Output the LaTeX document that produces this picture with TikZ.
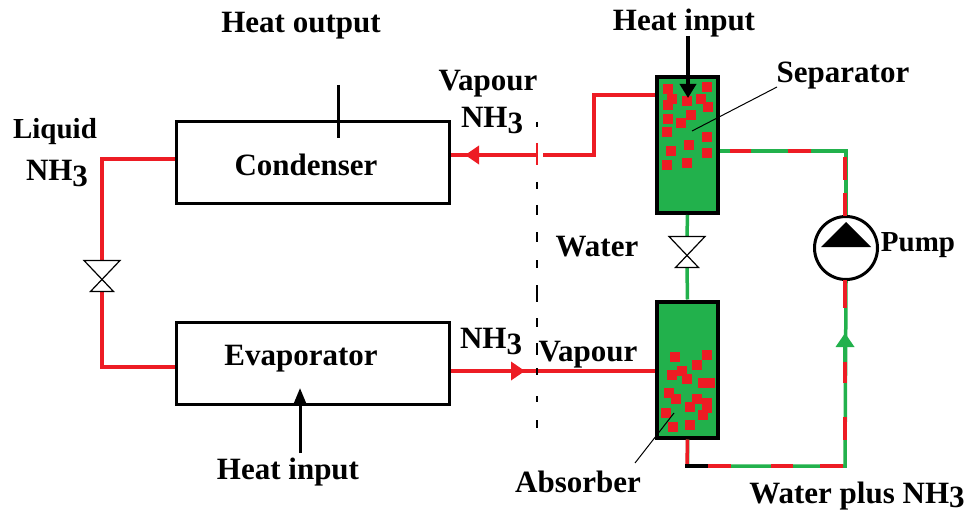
\documentclass[tikz,border=0pt]{standalone}
\usepackage{fontspec}
\setmainfont{Liberation Serif}
\usetikzlibrary{arrows.meta}
\definecolor{pipered}{HTML}{ED1C24}
\definecolor{pipegreen}{HTML}{22B14C}
\newcommand{\nhthree}{NH\raisebox{-6pt}{3}}
\tikzset{
	label/.style={font=\fontsize{31}{36}\selectfont\bfseries,inner sep=0pt,align=center},
	unit/.style={draw,line width=3pt,inner sep=0pt,minimum width=273pt,minimum height=82pt},
	tank/.style={draw,line width=4pt,fill=pipegreen,inner sep=0pt,minimum width=61pt,minimum height=136pt},
	valve/.style={inner sep=0pt,outer sep=0pt,minimum width=36pt,minimum height=31pt},
	redpipe/.style={draw=pipered,line width=3.5pt},
	greenpipe/.style={draw=pipegreen,line width=3.5pt},
	heatline/.style={line width=3pt},
	leader/.style={line width=1pt}
}
\begin{document}
\begin{tikzpicture}[x=1pt,y=-1pt]
\useasboundingbox (0,0) rectangle (966,513);
\node[unit] (condenser) at (313,162.5) {};
\node[unit] (evaporator) at (313,363) {};
\node[tank] (separator) at (687.5,145) {};
\node[tank] (absorber) at (687.5,369.5) {};
\node[valve] (valveliquid) at (102,276) {};
\node[valve] (valvewater) at (687,252) {};
\node[circle,draw,line width=3pt,inner sep=0pt,minimum size=63pt] (pump) at (846,248) {};
\coordinate (heatoutend) at (338,85);
\coordinate (tickend) at (338,138);
\coordinate (heatinend) at (300,453);
\coordinate (heatintip) at (300,388);
\coordinate (heatsepend) at (688,36);
\coordinate (heatseptip) at (688,98);
\coordinate (vapourgap) at (543,155);
\coordinate (vapourcut) at (537,155);
\coordinate (vapourtip) at (465,155);
\coordinate (nhtip) at (525,371);

% red lines
\draw[redpipe] ([yshift=3.5pt]condenser.west) -| (valveliquid.north);
\draw[redpipe] (valveliquid.south) |- ([yshift=-4pt]evaporator.west);
\draw[redpipe] (vapourcut) -- ([yshift=7.5pt]condenser.east);
\draw[redpipe,-{Triangle[length=14pt,width=18pt]}] (vapourcut) -- (vapourtip);
\draw[redpipe] (vapourgap) -| (594,95) -- ([yshift=50pt]separator.west);
\draw[pipered,line width=1.5pt] (537,143) -- (537,165);
\draw[redpipe] ([yshift=-8pt]evaporator.east) -- ([yshift=-1.5pt]absorber.west);
\draw[redpipe,-{Triangle[length=14pt,width=18pt]}] ([yshift=-8pt]evaporator.east) -- (nhtip);

% water line
\draw[greenpipe] (separator.south) -- (valvewater.north);
\draw[greenpipe] (valvewater.south) -- (absorber.north);

% water plus ammonia
\draw[greenpipe] ([yshift=-6pt]separator.east) -| (pump.north);
\draw[greenpipe] (absorber.south) |- (845,466) -- (pump.south);
\foreach \xa/\ya/\xb/\yb in {730/151/751/151,788/151/811/151,845/157/845/180,845/193/845/216,
	845/280/845/308,845/362/845/383,845/417/845/440,820/466/843/466,771/466/793/466,708/466/731/466}
	\draw[redpipe] (\xa,\ya) -- (\xb,\yb);
\draw[redpipe] (absorber.south) -- (687,466);
\draw[line width=3.5pt] (685.25,466) -- (708,466);
\draw[pipegreen,-{Triangle[length=14pt,width=18pt]},line width=3.5pt] (845,362) -- (845,333);

% bubbles
\foreach \x/\y in {668.3/89.3,706.7/87.3,671.7/99.3,668.3/104.7,686.7/101.3,700.7/99.3,707.7/107.3,
	668.3/119.3,690.7/115.3,680.7/123.3,666.7/132.3,706.7/137.3,688.7/145.3,670.7/151.3,706.7/153.3,
	666.7/165.3,686.7/163.3,675.3/357.3,706.7/355.3,696.7/365.3,672.3/375.3,682.3/371.3,686.7/379.3,
	703.3/383.3,710/383.3,668.7/393.3,676.3/399.3,697.3/399.3,706.7/403.3,706.7/408.3,690.3/407.3,
	702.7/415.3,666.3/413.3,673.3/427.3,690.3/425.3}
	\fill[pipered] (\x-5,\y-5) rectangle (\x+5,\y+5);

% valves and pump
\foreach \v in {valveliquid,valvewater}
	\draw[line width=1.2pt,shift={(\v)}] (-18,-15.5) -- (18,-15.5) -- (-11.5,15.5) -- (11.5,15.5) -- cycle;
\fill (846,222) -- (871,247) -- (821,247) -- cycle;

% heat lines
\draw[heatline] (heatoutend) -- (tickend);
\draw[heatline,-{Triangle[length=17pt,width=13pt]}] (heatinend) -- (heatintip);
\draw[line width=4pt,-{Triangle[length=14pt,width=16pt]}] (heatsepend) -- (heatseptip);
\foreach \ya/\yb in {122/127,182/189,205/215,232/242,260/268,285/302,318/327,343/355,368/375,396/402,420/428}
	\draw[line width=1.2pt] (537,\ya) -- (537,\yb);

% leaders
\node[label] (separatorlabel) at (843,76) {Separator};
\node[label] (absorberlabel) at (578,482) {Absorber};
\draw[leader] (777,87) -- (692,131);
\draw[leader] (635,463) -- (674,413);

\node[label] at (301,26) {Heat output};
\node[label] at (684,23) {Heat input};
\node[label] at (488,84) {Vapour};
\node[label] at (492,121) {\nhthree};
\node[label,font=\fontsize{29}{36}\selectfont\bfseries] at (55,132) {Liquid};
\node[label] at (57,174) {\nhthree};
\node[label] at (306,165) {Condenser};
\node[label] at (301,359) {Evaporator};
\node[label] at (491,342) {\nhthree};
\node[label] at (588,355) {Vapour};
\node[label] at (597,247) {Water};
\node[label,font=\fontsize{29}{36}\selectfont\bfseries] at (918,245) {Pump};
\node[label] at (288,472) {Heat input};
\node[label] at (857,496) {Water plus NH\raisebox{-4pt}{3}};
\end{tikzpicture}
\end{document}
